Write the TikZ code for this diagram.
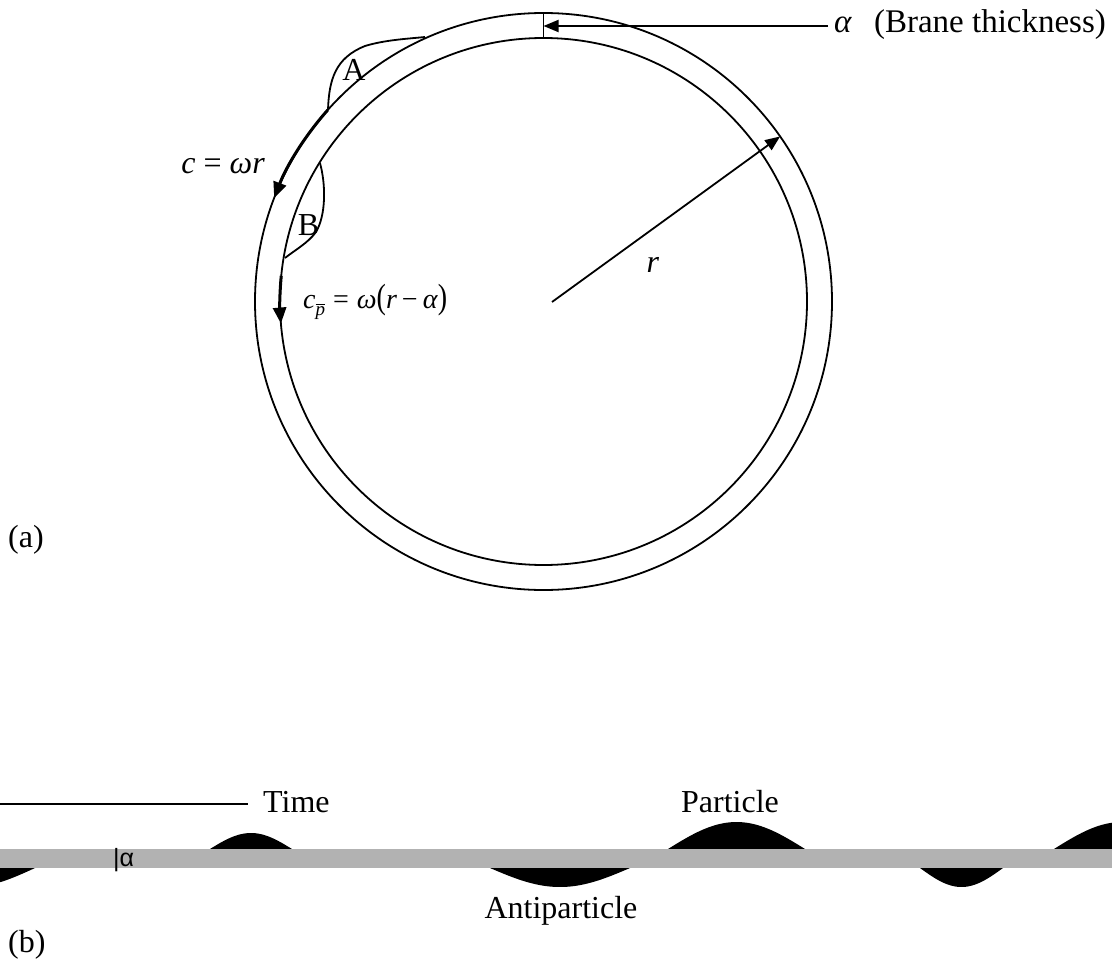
\documentclass[tikz,border=0pt]{standalone}
\usepackage{graphicx}
\usepackage{fontspec}
\setmainfont{Liberation Serif}
\newfontfamily\sansf{Liberation Sans}
\usetikzlibrary{arrows.meta,calc}
\definecolor{stripgray}{HTML}{B2B2B2}
\tikzset{
  ringline/.style={line width=1.8pt},
  plainline/.style={line width=1.8pt},
  tiparrow/.style={line width=1.8pt,-{Triangle[length=15pt,width=12pt]}},
  fatarrow/.style={line width=3pt,-{Triangle[length=16pt,width=13pt]}},
  lbl/.style={inner sep=0pt,font=\fontsize{32}{36}\selectfont},
  smalllbl/.style={inner sep=0pt,font=\fontsize{28}{32}\selectfont},
}
\newcommand\myhump[4]{\fill plot[domain=#1:#2,samples=50] (\x,{#3-(#4)*sin((\x-#1)/(#2-#1)*180)}) -- cycle;}
\begin{document}
\begin{tikzpicture}[x=1pt,y=-1pt]
\useasboundingbox (0,0) rectangle (1112,961);
% ---- (a) ring ----
\coordinate (O) at (543.5,301.5);
\draw[ringline] (O) circle[radius=288.5];
\draw[ringline] (O) circle[radius=263.5];
% brane thickness marker
\coordinate (tickT) at (543.5,13);
\coordinate (tickB) at (543.5,38);
\coordinate (tickM) at (543.5,26);
\draw[plainline] (tickT) -- (tickB);
\node[inner sep=0pt,font=\fontsize{33}{37}\selectfont,anchor=base west] (alab) at (834,32) {\textit{α}\hspace{22pt}(Brane thickness)};
\draw[tiparrow] ([xshift=-6pt]alab.west |- tickM) -- (tickM);
% radius
\coordinate (rs) at (552,302);
\coordinate (rt) at ($(O)+(-34.9:288.5)$);
\draw[tiparrow] (rs) -- (rt);
\node[lbl,anchor=base] (rlab) at (653,272) {\textit{r}};
% bump A (outside)
\coordinate (a1) at (328,110);
\coordinate (a2) at (425,37);
\draw[plainline] (a1) .. controls (329,80) and (335,58) .. (365,46) .. controls (385,40) and (405,39) .. (a2);
\node[lbl,anchor=base] (Alab) at (354,80) {A};
% bump B (inside)
\coordinate (b1) at (320,163);
\coordinate (b2) at (285,258);
\draw[plainline] (b1) .. controls (326,185) and (326,215) .. (316,232) .. controls (308,243) and (295,250) .. (b2);
\node[lbl,anchor=base] (Blab) at (308.5,235) {B};
% c = omega r arrow
\draw[fatarrow] ($(O)+(221.6:288.5)$) arc[start angle=221.6,end angle=201.0,radius=288.5];
\node[lbl,anchor=base east] (clab) at (265,173) {\textit{c} = \textit{ωr}};
% c_pbar arrow
\draw[fatarrow] ($(O)+(185.6:263.5)$) arc[start angle=185.6,end angle=175.2,radius=263.5];
\node[smalllbl,anchor=base west] (cplab) at (303,308) {\textit{c}\raisebox{-7pt}{\fontsize{19}{19}\selectfont$\overline{\hbox{\itshape p}}$}\hspace{8pt}=\hspace{8pt}\textit{ω}\scalebox{1}[1.25]{(}\textit{r}\hspace{5pt}−\hspace{5pt}\textit{α}\scalebox{1}[1.25]{)}};
\node[lbl,anchor=base west] (pa) at (8,547) {(a)};
% ---- (b) strip ----
\begin{scope}
\clip (0,0) rectangle (1112,961);
\myhump{-95}{35}{868}{-19}
\myhump{210}{292}{849}{16}
\myhump{490}{630}{868}{-19}
\myhump{668}{805}{849}{27}
\myhump{920}{1003}{868}{-19}
\myhump{1054}{1190}{849}{27}
\end{scope}
\fill[stripgray] (0,849) rectangle (1112,868);
\node[inner sep=0pt,anchor=base west,font=\sansf\fontsize{25}{29}\selectfont] (alpha2) at (113,866) {|α};
\coordinate (tl) at (0,804);
\node[lbl,anchor=base west] (time) at (263,812) {Time};
\draw[plainline] (tl) -- ([xshift=-15pt]time.west |- tl);
\node[lbl,anchor=base] (part) at (730,812) {Particle};
\node[lbl,anchor=base] (anti) at (561,918) {Antiparticle};
\node[lbl,anchor=base west] (pb) at (8,952) {(b)};
\end{tikzpicture}
\end{document}
